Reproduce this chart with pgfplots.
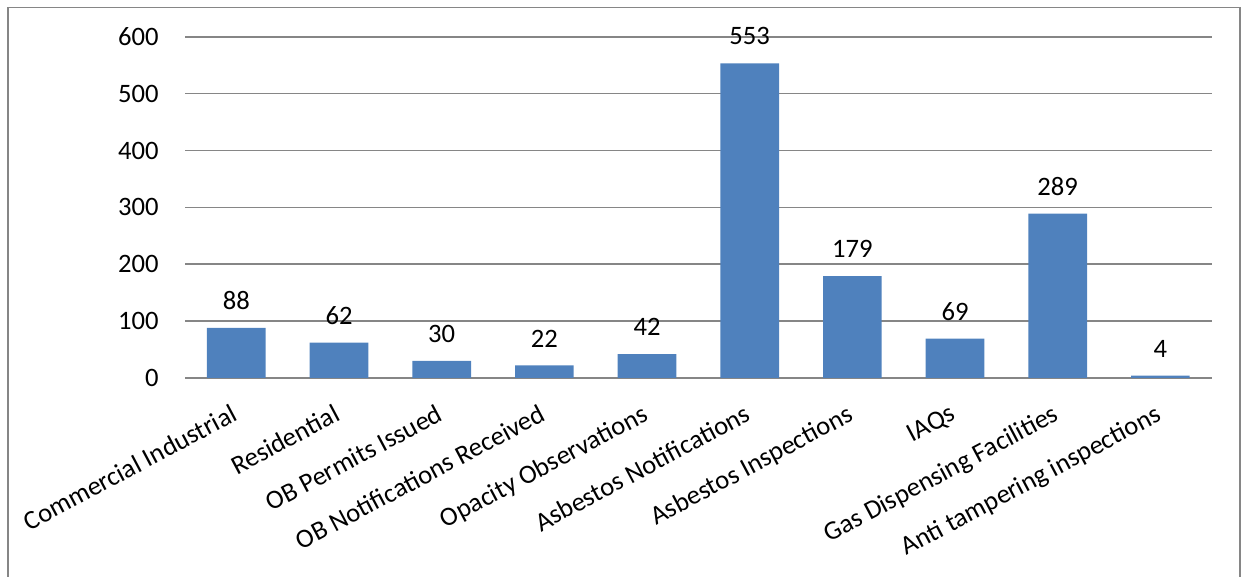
\documentclass[border=0pt]{standalone}
\usepackage{pgfplots}
\pgfplotsset{compat=1.18}
\usepackage{fontspec}
\setmainfont{Carlito}
\definecolor{barblue}{HTML}{4F81BD}
\definecolor{gridgray}{HTML}{868686}

\begin{document}
\begin{tikzpicture}
\useasboundingbox (0,0) rectangle (620.5pt,288.5pt);
% chart frame
\draw[gridgray, line width=0.8pt] (4pt,-10pt) -- (4pt,284.8pt) -- (620pt,284.8pt) -- (620pt,-10pt);
\begin{axis}[
  at={(92.5pt,99.5pt)}, anchor=south west,
  scale only axis, width=513.35pt, height=170.65pt,
  xmin=-0.5, xmax=9.5, ymin=0, ymax=600,
  ytick={0,100,...,600},
  xtick={0,...,9},
  xticklabels={Commercial Industrial, Residential, OB Permits Issued,
    OB Notifications Received, Opacity Observations, Asbestos Notifications,
    Asbestos Inspections, IAQs, Gas Dispensing Facilities,
    Anti tampering inspections},
  axis line style={draw=none},
  major tick length=0pt,
  ymajorgrids,
  grid style={gridgray, line width=0.8pt},
  /pgf/number format/assume math mode=true,
  tick label style={font=\fontsize{13.3}{15}\selectfont},
  yticklabel style={anchor=east, inner sep=0pt, xshift=-13pt},
  xticklabel style={yshift=-12.5pt, xshift=-3pt, rotate=28, anchor=north east, inner sep=0pt},
  ybar, bar width=29.35pt,
  nodes near coords,
  every node near coord/.append style={font=\fontsize{13.3}{15}\selectfont, inner sep=0pt, yshift=9pt, black},
]
\addplot[fill=barblue, draw=none] coordinates {
  (0,88) (1,62) (2,30) (3,22) (4,42) (5,553) (6,179) (7,69) (8,289) (9,4)
};
\end{axis}
\end{tikzpicture}
\end{document}
